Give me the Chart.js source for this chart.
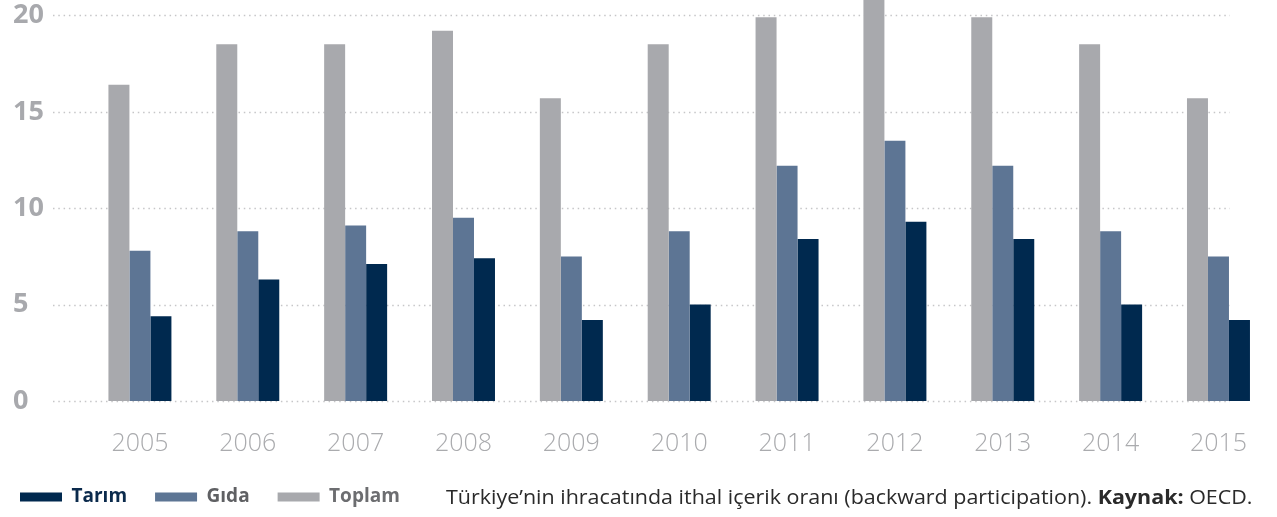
<!DOCTYPE html>
<html>
<head>
<meta charset="utf-8">
<script src="https://cdn.jsdelivr.net/npm/chart.js@4/dist/chart.umd.min.js"></script>
<style>
  html, body { margin: 0; padding: 0; background: #fff; }
  #wrap { position: relative; width: 1277px; height: 517px; }
  #note {
    position: absolute; right: 25px; top: 484px;
    font-family: "Open Sans", sans-serif; font-size: 20px;
    color: #2a2a2a; white-space: nowrap; line-height: 26px;
    transform-origin: right center;
  }
</style>
</head>
<body>
<div id="wrap">
  <canvas id="chart" width="1277" height="517"></canvas>
  <div id="note">Türkiye’nin ihracatında ithal içerik oranı (backward participation). <b>Kaynak:</b> OECD.</div>
</div>
<script>
const years = ["2005", "2006", "2007", "2008", "2009", "2010", "2011", "2012", "2013", "2014", "2015"];
const toplam = [16.4, 18.5, 18.5, 19.2, 15.7, 18.5, 19.9, 21.5, 19.9, 18.5, 15.7];
const gida = [7.8, 8.8, 9.1, 9.5, 7.5, 8.8, 12.2, 13.5, 12.2, 8.8, 7.5];
const tarim = [4.4, 6.3, 7.1, 7.4, 4.2, 5.0, 8.4, 9.3, 8.4, 5.0, 4.2];
const yTicks = [0, 5, 10, 15, 20];

const legendColors = { "Tarım": "#0b2a4c", "Gıda": "#5f6063", "Toplam": "#6c6d70" };

// squeeze the source note to the width it has in the original
const note = document.getElementById("note");
note.style.transform = "scaleX(" + (807 / note.offsetWidth) + ")";

// dotted horizontal lines, they start left of the plot area in the original
const dottedGrid = {
  id: 'dottedGrid',
  afterLayout(chart) {
    // legend starts further left than the y labels
    chart.legend.left = -8;
  },
  beforeDatasetsDraw(chart) {
    const ctx = chart.ctx;
    const y = chart.scales.y;
    ctx.save();
    ctx.strokeStyle = '#c6c6c8';
    ctx.lineWidth = 1.5;
    ctx.setLineDash([1.5, 3.8]);
    yTicks.forEach(v => {
      const py = Math.round(y.getPixelForValue(v)) + 0.5;
      ctx.beginPath();
      ctx.moveTo(53, py);
      ctx.lineTo(1230, py);
      ctx.stroke();
    });
    ctx.restore();
  }
};

let chart = new Chart(document.getElementById("chart"), {
  type: 'bar',
  data: {
    labels: years,
    datasets: [
      { label: "Toplam", data: toplam, backgroundColor: "#a8a9ad" },
      { label: "Gıda", data: gida, backgroundColor: "#5d7594" },
      { label: "Tarım", data: tarim, backgroundColor: "#00294f" }
    ]
  },
  options: {
    responsive: false,
    animation: false,
    layout: { padding: { left: 13, right: 4.6, top: 0, bottom: 0.5 } },
    datasets: { bar: { categoryPercentage: 0.584, barPercentage: 1.0, borderWidth: 0 } },
    scales: {
      x: {
        grid: { display: false, drawTicks: false },
        border: { display: false },
        ticks: {
          padding: 28,
          color: '#aaabae',
          font: { family: "'Open Sans', sans-serif", size: 25, weight: 300 }
        },
        afterFit(s) { s.height = 58.5; s.paddingLeft = 0; s.paddingRight = 0; }
      },
      y: {
        min: 0,
        max: 20.8,
        grid: { display: false, drawTicks: false },
        border: { display: false },
        afterBuildTicks(s) { s.ticks = yTicks.map(v => ({ value: v })); },
        ticks: {
          crossAlign: 'far',
          color: '#a8a9ad',
          font: { family: "'Open Sans', sans-serif", size: 27, weight: 700 }
        },
        afterFit(s) { s.width = 73; s.paddingTop = 0; s.paddingBottom = 0; }
      }
    },
    plugins: {
      legend: {
        position: 'bottom',
        align: 'start',
        reverse: true,
        labels: {
          boxWidth: 42,
          boxHeight: 9,
          padding: 28,
          font: { family: "'Open Sans', sans-serif", size: 19, weight: 700 },
          generateLabels(c) {
            const items = Chart.defaults.plugins.legend.labels.generateLabels(c);
            items.forEach(it => { it.fontColor = legendColors[it.text]; it.lineWidth = 0; });
            return items;
          }
        }
      },
      tooltip: { enabled: false }
    }
  },
  plugins: [dottedGrid]
});
</script>
</body>
</html>
